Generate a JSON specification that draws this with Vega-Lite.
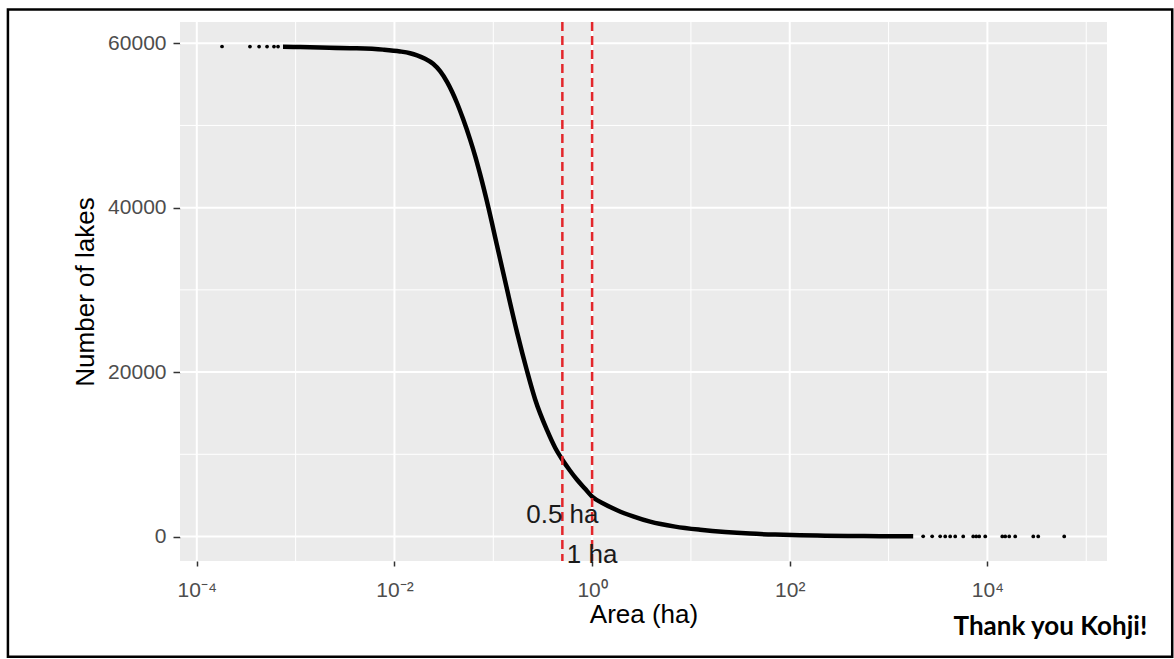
{
  "$schema": "https://vega.github.io/schema/vega-lite/v6.json",
  "width": 927,
  "height": 539,
  "autosize": {"type": "none"},
  "padding": {"left": 180, "top": 22, "right": 67, "bottom": 98},
  "background": "white",
  "config": {
    "view": {"stroke": null, "fill": "#ebebeb"},
    "font": "Liberation Sans"
  },
  "datasets": {
    "curve": [
      {"area": 0.000745, "lakes": 59560},
      {"area": 0.001109, "lakes": 59530},
      {"area": 0.001766, "lakes": 59480},
      {"area": 0.003556, "lakes": 59400},
      {"area": 0.007674, "lakes": 59220},
      {"area": 0.0114, "lakes": 59000},
      {"area": 0.01439, "lakes": 58780},
      {"area": 0.01694, "lakes": 58520},
      {"area": 0.02042, "lakes": 58100},
      {"area": 0.0246, "lakes": 57500},
      {"area": 0.02897, "lakes": 56600},
      {"area": 0.03404, "lakes": 55300},
      {"area": 0.03828, "lakes": 54100},
      {"area": 0.04305, "lakes": 52700},
      {"area": 0.04943, "lakes": 50800},
      {"area": 0.05821, "lakes": 48300},
      {"area": 0.06546, "lakes": 46300},
      {"area": 0.07345, "lakes": 44100},
      {"area": 0.08851, "lakes": 40200},
      {"area": 0.1091, "lakes": 35400},
      {"area": 0.138, "lakes": 30000},
      {"area": 0.1742, "lakes": 24800},
      {"area": 0.2198, "lakes": 20100},
      {"area": 0.2649, "lakes": 16700},
      {"area": 0.3508, "lakes": 12900},
      {"area": 0.4227, "lakes": 10800},
      {"area": 0.4966, "lakes": 9400},
      {"area": 0.5984, "lakes": 8000},
      {"area": 0.7047, "lakes": 6900},
      {"area": 0.8492, "lakes": 5800},
      {"area": 1, "lakes": 4850},
      {"area": 1.355, "lakes": 3900},
      {"area": 1.791, "lakes": 3200},
      {"area": 2.6, "lakes": 2450},
      {"area": 3.864, "lakes": 1800},
      {"area": 6.918, "lakes": 1200},
      {"area": 12.39, "lakes": 820},
      {"area": 22.18, "lakes": 540},
      {"area": 39.72, "lakes": 350},
      {"area": 71.12, "lakes": 230},
      {"area": 127.4, "lakes": 150},
      {"area": 228, "lakes": 100},
      {"area": 408.3, "lakes": 70},
      {"area": 822.2, "lakes": 45},
      {"area": 1774, "lakes": 28}
    ],
    "dots": [
      {"area": 0.00018, "lakes": 59600},
      {"area": 0.000345, "lakes": 59599},
      {"area": 0.000427, "lakes": 59598},
      {"area": 0.000514, "lakes": 59597},
      {"area": 0.000604, "lakes": 59596},
      {"area": 0.000664, "lakes": 59595},
      {"area": 2239, "lakes": 18},
      {"area": 2761, "lakes": 17},
      {"area": 3327, "lakes": 16},
      {"area": 3741, "lakes": 15},
      {"area": 4198, "lakes": 14},
      {"area": 4721, "lakes": 13},
      {"area": 5689, "lakes": 12},
      {"area": 7178, "lakes": 11},
      {"area": 7709, "lakes": 10},
      {"area": 8260, "lakes": 9},
      {"area": 9506, "lakes": 8},
      {"area": 14130, "lakes": 7},
      {"area": 15140, "lakes": 6},
      {"area": 16630, "lakes": 5},
      {"area": 19100, "lakes": 4},
      {"area": 29100, "lakes": 3},
      {"area": 32660, "lakes": 2},
      {"area": 59840, "lakes": 1}
    ],
    "gridx": [
      {"area": 0.0001, "major": true},
      {"area": 0.001, "major": false},
      {"area": 0.01, "major": true},
      {"area": 0.1, "major": false},
      {"area": 1, "major": true},
      {"area": 10, "major": false},
      {"area": 100, "major": true},
      {"area": 1000, "major": false},
      {"area": 10000, "major": true},
      {"area": 100000, "major": false}
    ],
    "gridy": [
      {"lakes": 0, "major": true},
      {"lakes": 10000, "major": false},
      {"lakes": 20000, "major": true},
      {"lakes": 30000, "major": false},
      {"lakes": 40000, "major": true},
      {"lakes": 50000, "major": false},
      {"lakes": 60000, "major": true}
    ],
    "cutoffs": [
      {"area": 0.5, "label": "0.5 ha", "label_y": 2600},
      {"area": 1, "label": "1 ha", "label_y": -2200}
    ],
    "note": [
      {"text": "Thank you Kohji!", "area": 414000, "lakes": -11940}
    ]
  },
  "layer": [
    {
      "data": {"name": "gridx"},
      "mark": {"type": "rule", "color": "white"},
      "encoding": {
        "x": {
          "field": "area",
          "type": "quantitative",
          "scale": {"type": "log", "domain": [0.00006761, 162180], "nice": false},
          "axis": {
            "orient": "bottom",
            "values": [0.0001, 0.01, 1, 100, 10000],
            "labelExpr": "datum.value < 0.001 ? '10⁻⁴' : datum.value < 0.1 ? '10⁻²' : datum.value < 10 ? '10⁰' : datum.value < 1000 ? '10²' : '10⁴'",
            "domain": false,
            "grid": false,
            "ticks": true,
            "tickColor": "#333333",
            "tickWidth": 1.5,
            "tickSize": 5,
            "labelFont": "Liberation Sans",
            "labelFontSize": 21,
            "labelColor": "#4d4d4d",
            "labelBaseline": "alphabetic",
            "labelPadding": 30,
            "labelFlush": false,
            "labelOverlap": false,
            "title": "Area (ha)",
            "titleFont": "Liberation Sans",
            "titleFontSize": 26,
            "titleFontWeight": "normal",
            "titleColor": "#000000",
            "titleY": 61,
            "titleBaseline": "alphabetic",
            "titleAlign": "center"
          }
        },
        "strokeWidth": {"condition": {"test": "datum.major", "value": 2}, "value": 1}
      }
    },
    {
      "data": {"name": "gridy"},
      "mark": {"type": "rule", "color": "white"},
      "encoding": {
        "y": {
          "field": "lakes",
          "type": "quantitative",
          "scale": {"domain": [-2980, 62580], "nice": false, "zero": false},
          "axis": {
            "orient": "left",
            "values": [0, 20000, 40000, 60000],
            "format": "d",
            "domain": false,
            "grid": false,
            "ticks": true,
            "tickColor": "#333333",
            "tickWidth": 1.5,
            "tickSize": 7,
            "labelFont": "Liberation Sans",
            "labelFontSize": 21,
            "labelColor": "#4d4d4d",
            "labelPadding": 7,
            "labelFlush": false,
            "title": "Number of lakes",
            "titleFont": "Liberation Sans",
            "titleFontSize": 26,
            "titleFontWeight": "normal",
            "titleColor": "#000000",
            "titleX": -87,
            "titleAngle": 270,
            "titleBaseline": "alphabetic",
            "titleAlign": "center"
          }
        },
        "strokeWidth": {"condition": {"test": "datum.major", "value": 2}, "value": 1}
      }
    },
    {
      "data": {"values": [{}]},
      "mark": {"type": "rect", "fill": null, "fillOpacity": 0, "stroke": "#000000", "strokeWidth": 2.5},
      "encoding": {
        "x": {"datum": 0.000001227, "type": "quantitative"},
        "x2": {"datum": 741300},
        "y": {"datum": -14612, "type": "quantitative"},
        "y2": {"datum": 64096}
      }
    },
    {
      "data": {"name": "curve"},
      "mark": {"type": "line", "color": "#000000", "strokeWidth": 4.5, "interpolate": "monotone"},
      "encoding": {
        "x": {"field": "area", "type": "quantitative"},
        "y": {"field": "lakes", "type": "quantitative"}
      }
    },
    {
      "data": {"name": "dots"},
      "mark": {"type": "circle", "color": "#000000", "size": 14, "opacity": 1},
      "encoding": {
        "x": {"field": "area", "type": "quantitative"},
        "y": {"field": "lakes", "type": "quantitative"}
      }
    },
    {
      "data": {"name": "cutoffs"},
      "mark": {"type": "rule", "color": "#e3262b", "strokeWidth": 2.5, "strokeDash": [9, 5]},
      "encoding": {
        "x": {"field": "area", "type": "quantitative"}
      }
    },
    {
      "data": {"name": "cutoffs"},
      "mark": {"type": "text", "font": "Liberation Sans", "fontSize": 26, "color": "#1a1a1a", "align": "center", "baseline": "middle"},
      "encoding": {
        "x": {"field": "area", "type": "quantitative"},
        "y": {"field": "label_y", "type": "quantitative"},
        "text": {"field": "label"}
      }
    },
    {
      "data": {"name": "note"},
      "mark": {"type": "text", "font": "Lato", "fontWeight": "bold", "fontSize": 26, "color": "#000000", "align": "right", "baseline": "alphabetic"},
      "encoding": {
        "x": {"field": "area", "type": "quantitative"},
        "y": {"field": "lakes", "type": "quantitative"},
        "text": {"field": "text"}
      }
    }
  ]
}
